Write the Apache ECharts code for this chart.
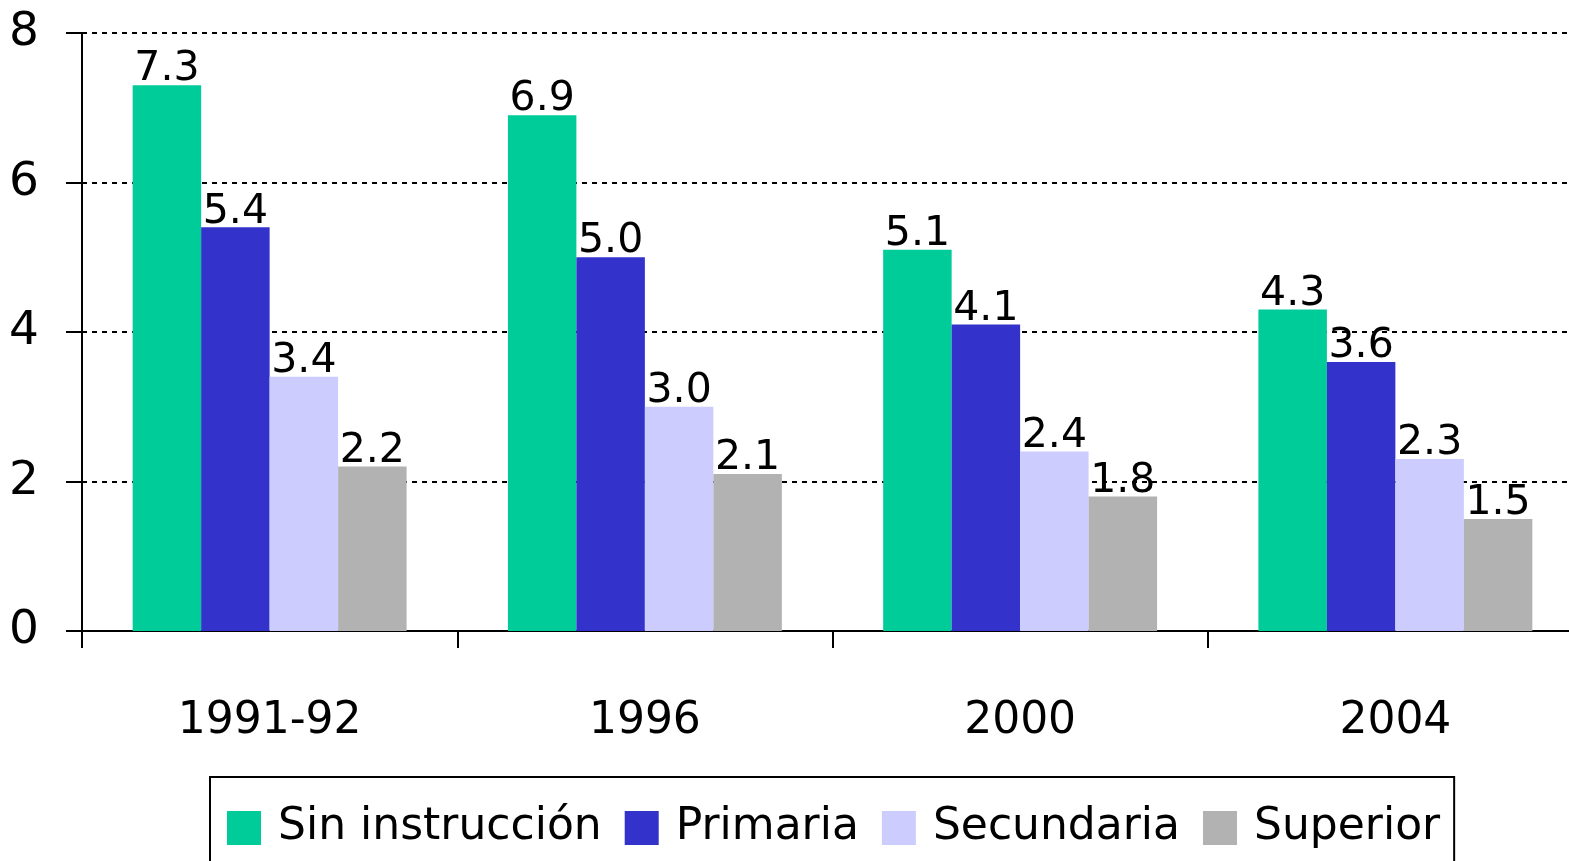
<!DOCTYPE html>
<html>
<head>
<meta charset="utf-8">
<script src="https://cdn.jsdelivr.net/npm/echarts@6/dist/echarts.min.js"></script>
<style>
    html, body { margin: 0; padding: 0; background: #fff; }
    #chart { width: 1569px; height: 861px; }
</style>
</head>
<body>
<div id="chart"></div>
<script>
    let years = ['1991-92', '1996', '2000', '2004'];
    let seriesNames = ['Sin instrucción', 'Primaria', 'Secundaria', 'Superior'];
    let sinInstruccion = [7.3, 6.9, 5.1, 4.3];
    let primaria = [5.4, 5.0, 4.1, 3.6];
    let secundaria = [3.4, 3.0, 2.4, 2.3];
    let superior = [2.2, 2.1, 1.8, 1.5];
    let colors = ['#00CC99', '#3333CC', '#CCCCFF', '#B2B2B2'];

    let fontFamily = '"DejaVu Sans", sans-serif';
    let chart = echarts.init(document.getElementById('chart'));

    let makeSeries = function (name, data, color) {
        return {
            name: name,
            type: 'bar',
            data: data,
            barGap: '0%',
            barCategoryGap: '27%',
            itemStyle: { color: color },
            label: {
                show: true,
                position: 'top',
                distance: -5,
                color: '#000',
                fontSize: 41,
                fontFamily: fontFamily,
                formatter: function (p) { return p.value.toFixed(1); }
            }
        };
    };

    let option = {
        animation: false,
        backgroundColor: '#fff',
        grid: { left: 82, top: 33, width: 1501, height: 598, outerBoundsMode: 'none' },
        legend: {
            left: 210,
            top: 777,
            padding: [29, 14, 60, 17],
            itemWidth: 34,
            itemHeight: 34,
            itemGap: 23,
            borderColor: '#000',
            borderWidth: 2,
            icon: 'rect',
            textStyle: { fontSize: 44, fontFamily: fontFamily, color: '#000', padding: [0, 0, 0, 12] },
            data: seriesNames
        },
        xAxis: {
            type: 'category',
            data: years,
            axisLine: { lineStyle: { color: '#000', width: 2 } },
            axisTick: { show: true, length: 17, lineStyle: { color: '#000', width: 2 } },
            axisLabel: { color: '#000', fontSize: 44, fontFamily: fontFamily, margin: 69 }
        },
        yAxis: {
            type: 'value',
            min: 0,
            max: 8,
            interval: 2,
            axisLine: { show: true, lineStyle: { color: '#000', width: 2 } },
            axisTick: { show: true, length: 16, lineStyle: { color: '#000', width: 2 } },
            axisLabel: { color: '#000', fontSize: 47, fontFamily: fontFamily, margin: 43 },
            splitLine: { show: true, lineStyle: { color: '#000', width: 2, type: [5, 5] } }
        },
        series: [
            makeSeries(seriesNames[0], sinInstruccion, colors[0]),
            makeSeries(seriesNames[1], primaria, colors[1]),
            makeSeries(seriesNames[2], secundaria, colors[2]),
            makeSeries(seriesNames[3], superior, colors[3])
        ]
    };

    chart.setOption(option);
</script>
</body>
</html>
